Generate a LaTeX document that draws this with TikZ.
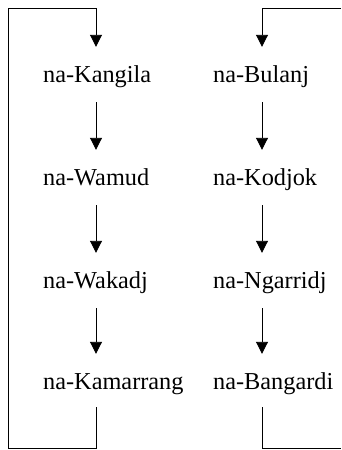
\documentclass[tikz,border=0pt]{standalone}
\usepackage{fontspec}
\setmainfont{Liberation Serif}
\usetikzlibrary{arrows.meta}
\begin{document}
\begin{tikzpicture}[x=1pt,y=1pt,
  term/.style={anchor=base west, inner sep=0pt, text height=16pt, text depth=6pt,
    font=\fontsize{24.3}{28}\selectfont},
  link/.style={line width=0.9pt, line join=miter,
    -{Triangle[width=12pt,length=12pt]}},
  gap/.style={shorten <=14pt, shorten >=19pt}]
\useasboundingbox (0,0) rectangle (341,-450);
% columns of the two cycles
\coordinate (xL) at (96,0);
\coordinate (xR) at (262,0);
\coordinate (tl) at (8,-8);
\coordinate (bl) at (8,-448);
\coordinate (tr) at (341,-8);
\coordinate (br) at (341,-448);
% left cycle
\node[term] (k1) at (43,-82)  {na-Kangila};
\node[term] (k2) at (43,-185) {na-Wamud};
\node[term] (k3) at (43,-288) {na-Wakadj};
\node[term] (k4) at (43,-389) {na-Kamarrang};
% right cycle
\node[term] (b1) at (213,-82)  {na-Bulanj};
\node[term] (b2) at (213,-185) {na-Kodjok};
\node[term] (b3) at (213,-288) {na-Ngarridj};
\node[term] (b4) at (213,-389) {na-Bangardi};
% steps down each column
\draw[link,gap] (k1.south -| xL) -- (k2.north -| xL);
\draw[link,gap] (k2.south -| xL) -- (k3.north -| xL);
\draw[link,gap] (k3.south -| xL) -- (k4.north -| xL);
\draw[link,gap] (b1.south -| xR) -- (b2.north -| xR);
\draw[link,gap] (b2.south -| xR) -- (b3.north -| xR);
\draw[link,gap] (b3.south -| xR) -- (b4.north -| xR);
% return loop of the left cycle
\draw[link,shorten <=12pt,shorten >=19pt] (k4.south -| xL) -- (xL |- bl) -- (bl) -- (tl)
  -- (xL |- tl) -- (k1.north -| xL);
% open ends of the right cycle
\draw[line width=0.9pt,line join=miter,shorten <=12pt] (b4.south -| xR) -- (xR |- br) -- (br);
\draw[link,shorten >=19pt] (tr) -- (xR |- tr) -- (b1.north -| xR);
\end{tikzpicture}
\end{document}
